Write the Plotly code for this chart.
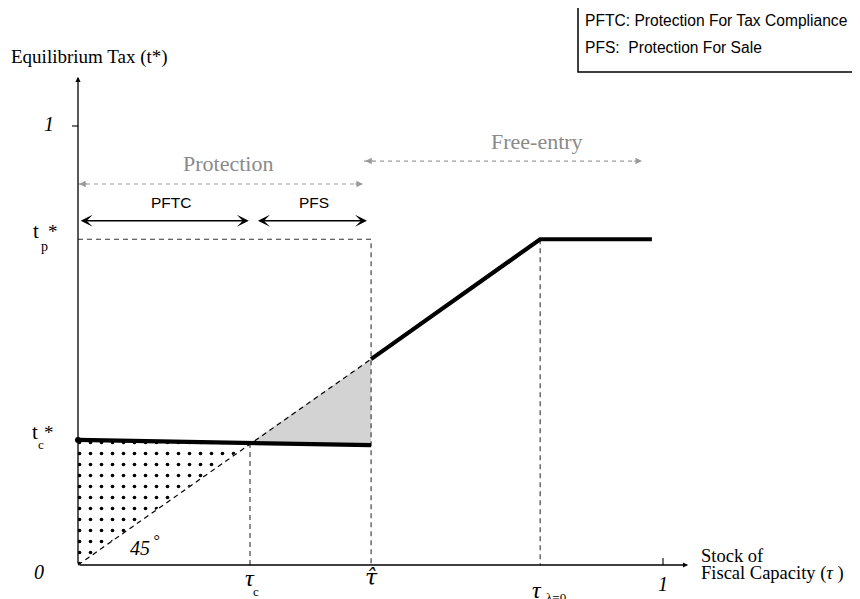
import plotly.graph_objects as go

# ---- schematic values (data units: axis 0..1) ----
tau_c = 0.294        # threshold tau_c
tau_hat = 0.501      # threshold tau-hat
tau_l0 = 0.790       # tau at lambda = 0
tau_end = 0.981      # end of the drawn schedule
tc_star = 0.285      # t_c*
tp_star = 0.742      # t_p*

low_x = [0.0, tau_c, tau_hat]          # PFTC / PFS equilibrium tax (thick)
low_y = [tc_star, 0.278, 0.273]
high_x = [tau_hat, tau_l0, tau_end]     # free-entry equilibrium tax (thick)
high_y = [0.469, tp_star, tp_star]
diag_x = [0.0, tau_hat]                 # 45 degree line
diag_y = [0.0, 0.469]
shade_x = [tau_c, tau_hat, tau_hat]     # grey triangle
shade_y = [0.278, 0.469, 0.273]
dots_x = [0.0, tau_c, 0.0]              # dotted triangle
dots_y = [tc_star, 0.278, 0.0]

y_top = 1.112        # axis arrow tips
x_top = 1.043
prot_y, free_y, pf_y = 0.868, 0.920, 0.784
prot_span = [0.0, 0.487]
free_span = [0.489, 0.964]
pftc_span = [0.0, 0.292]
pfs_span = [0.305, 0.494]

SERIF = "Liberation Serif"
SANS = "Liberation Sans"

# page body has an 8px margin: figure covers reference pixels 8..860 x 8..599
W, H, OFF = 852, 591, 8
X0, SX, Y0, SY = 78, 585, 565, 439   # reference pixel of origin and scale

def px(xr):
    return (xr - X0) / SX

def py(yr):
    return (Y0 - yr) / SY

fig = go.Figure()

# dotted region
fig.add_trace(go.Scatter(x=dots_x, y=dots_y, mode="lines", fill="toself",
                         line=dict(width=0, color="rgba(0,0,0,0)"),
                         fillcolor="white",
                         fillpattern=dict(shape=".", size=11, solidity=0.085,
                                          fgcolor="black", bgcolor="white", fillmode="replace"),
                         hoverinfo="skip"))
# grey shaded triangle
fig.add_trace(go.Scatter(x=shade_x, y=shade_y, mode="lines", fill="toself",
                         fillcolor="#d3d3d3", line=dict(width=0, color="rgba(0,0,0,0)"),
                         hoverinfo="skip"))
# 45 degree dashed
fig.add_trace(go.Scatter(x=diag_x, y=diag_y, mode="lines",
                         line=dict(color="black", width=1.2, dash="5px,4px"), hoverinfo="skip"))
# dashed guides
dash_style = dict(color="#333333", width=1.1, dash="5px,4px")
fig.add_trace(go.Scatter(x=[0.0, tau_hat, tau_hat], y=[tp_star, tp_star, 0.0], mode="lines",
                         line=dash_style, hoverinfo="skip"))
fig.add_trace(go.Scatter(x=[tau_c, tau_c], y=[low_y[1], 0.0], mode="lines",
                         line=dash_style, hoverinfo="skip"))
fig.add_trace(go.Scatter(x=[tau_l0, tau_l0], y=[tp_star, 0.0], mode="lines",
                         line=dash_style, hoverinfo="skip"))
# grey dashed regime arrows (shafts)
gdash = dict(color="#9a9a9a", width=1.1, dash="4px,4px")
fig.add_trace(go.Scatter(x=prot_span, y=[prot_y, prot_y], mode="lines", line=gdash, hoverinfo="skip"))
fig.add_trace(go.Scatter(x=free_span, y=[free_y, free_y], mode="lines", line=gdash, hoverinfo="skip"))
# thick equilibrium schedule
fig.add_trace(go.Scatter(x=low_x, y=low_y, mode="lines",
                         line=dict(color="black", width=4.2), hoverinfo="skip"))
fig.add_trace(go.Scatter(x=high_x, y=high_y, mode="lines",
                         line=dict(color="black", width=4.2), hoverinfo="skip"))
# round start dot
fig.add_trace(go.Scatter(x=[low_x[0]], y=[low_y[0]], mode="markers",
                         marker=dict(color="black", size=6), hoverinfo="skip"))
# ticks
fig.add_trace(go.Scatter(x=[-0.0103, 0.0], y=[1.0, 1.0], mode="lines",
                         line=dict(color="black", width=1.1), hoverinfo="skip"))
fig.add_trace(go.Scatter(x=[1.0, 1.0], y=[0.0, 0.016], mode="lines",
                         line=dict(color="black", width=1.1), hoverinfo="skip"))

ann = []

def arrow(x, y, ax, ay, color="black", width=1.3, head=2, size=1.0, side="end"):
    ann.append(dict(x=x, y=y, ax=ax, ay=ay, xref="x", yref="y", axref="x", ayref="y",
                    text="", showarrow=True, arrowhead=head, startarrowhead=head,
                    arrowsize=size, startarrowsize=size, arrowwidth=width,
                    arrowcolor=color, arrowside=side, standoff=0, startstandoff=0))

# axes
arrow(0.0, y_top, 0.0, 0.0, width=1.3, head=2, size=0.8)
arrow(x_top, 0.0, 0.0, 0.0, width=1.3, head=2, size=0.8)
# PFTC / PFS double arrows
arrow(pftc_span[1], pf_y, pftc_span[0] + 0.002, pf_y, width=1.6, head=3, size=1.25, side="end+start")
arrow(pfs_span[1], pf_y, pfs_span[0], pf_y, width=1.6, head=3, size=1.25, side="end+start")
# grey arrow heads (short solid stubs at the tips)
for span, yy in ((prot_span, prot_y), (free_span, free_y)):
    arrow(span[1], yy, span[1] - 0.016, yy, color="#9a9a9a", width=1.0, head=2, size=1.3)
    arrow(span[0] + 0.002, yy, span[0] + 0.018, yy, color="#9a9a9a", width=1.0, head=2, size=1.3)

def txt(x, y, s, size, family=SERIF, color="black", xanchor="center", italic=False, xref="x", yref="y"):
    ann.append(dict(x=x, y=y, xref=xref, yref=yref, text=s, showarrow=False,
                    xanchor=xanchor, yanchor="middle",
                    font=dict(family=family, size=size, color=color,
                              style="italic" if italic else "normal")))

txt(px(89), py(56.5), "Equilibrium Tax (t*)", 19)
txt(px(49), py(124), "1", 20, italic=True)
txt(px(39), py(572), "0", 20, italic=True)
txt(1.0, py(584), "1", 20, italic=True)
# t_p*, t_c*
txt(px(36), py(231), "t", 21)
txt(px(53), py(231), "*", 19)
txt(px(44), py(246), "p", 14)
txt(px(35), py(432), "t", 21)
txt(px(49), py(432), "*", 19)
txt(px(41), py(444), "c", 13)
# tau labels
txt(tau_c, py(578), "τ", 24, italic=True)
txt(px(256), py(591), "c", 13)
txt(tau_hat, py(577), "τ\u0302", 22, family="DejaVu Serif", italic=True)
txt(px(537), py(590), "τ", 24, italic=True)
txt(px(556), py(597), "λ=0", 13)
# 45 degrees
txt(px(140), py(548), "45", 20, italic=True)
txt(px(156), py(540), "°", 16, italic=True)
# x-axis title
txt(px(699), py(556), "Stock of", 18.5, xanchor="left")
txt(px(699), py(573), "Fiscal Capacity (<i>τ</i> )", 18.5, xanchor="left")
# regime labels
txt(px(228), py(163), "Protection", 22, color="#8a8a8a")
txt(px(536.5), py(141.5), "Free-entry", 22, color="#8a8a8a")
txt(px(171), py(202), "PFTC", 15.5, family=SANS)
txt(px(313.7), py(202), "PFS", 15.5, family=SANS)

# legend box
def ppx(xr):
    return (xr - OFF) / W

def ppy(yr):
    return 1 - (yr - OFF) / H

txt(ppx(583), ppy(20.5), "PFTC: Protection For Tax Compliance", 15.6, family=SANS,
    xanchor="left", xref="paper", yref="paper")
txt(ppx(583), ppy(47.5), "PFS:  Protection For Sale", 15.6, family=SANS,
    xanchor="left", xref="paper", yref="paper")

fig.update_layout(
    width=W, height=H,
    margin=dict(l=0, r=0, t=0, b=0),
    paper_bgcolor="white", plot_bgcolor="white",
    showlegend=False,
    xaxis=dict(range=[px(OFF), px(860)], visible=False, fixedrange=True),
    yaxis=dict(range=[py(599), py(OFF)], visible=False, fixedrange=True),
    annotations=ann,
    shapes=[dict(type="rect", xref="paper", yref="paper",
                 x0=ppx(578), x1=ppx(858), y0=ppy(72), y1=ppy(7),
                 line=dict(color="black", width=1.5))],
)

fig.write_html("out.html")
